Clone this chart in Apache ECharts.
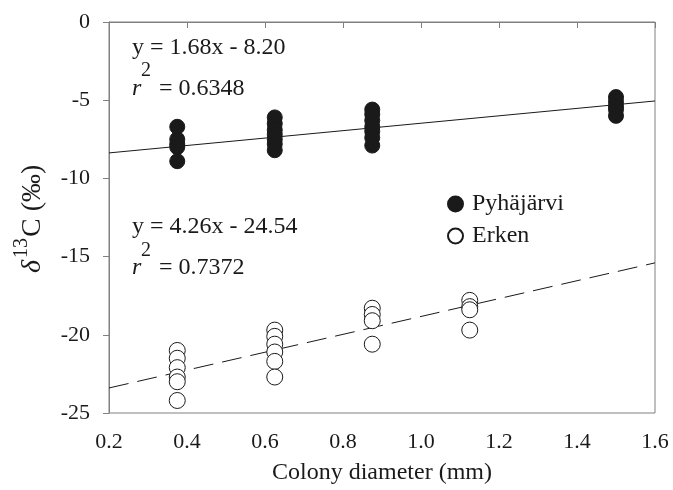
<!DOCTYPE html>
<html>
<head>
<meta charset="utf-8">
<script src="https://cdn.jsdelivr.net/npm/echarts@6/dist/echarts.min.js"></script>
<style>
html,body{margin:0;padding:0;background:#fff;}
#chart{width:673px;height:490px;}
</style>
</head>
<body>
<div id="chart"></div>
<script>
// ---- data ----
var xTicks = [0.2, 0.4, 0.6, 0.8, 1.0, 1.2, 1.4, 1.6];
var yTicks = [0, -5, -10, -15, -20, -25];

var pyhX = [0.375,0.375,0.375,0.375,0.375,
            0.625,0.625,0.625,0.625,0.625,0.625,0.625,
            0.875,0.875,0.875,0.875,0.875,0.875,0.875,
            1.5,1.5,1.5,1.5,1.5];
var pyhY = [-6.7,-7.5,-7.8,-8.0,-8.9,
            -6.1,-6.5,-6.9,-7.2,-7.5,-7.8,-8.2,
            -5.6,-5.9,-6.3,-6.7,-7.0,-7.4,-7.9,
            -4.8,-5.1,-5.4,-5.6,-6.0];

var erkX = [0.375,0.375,0.375,0.375,0.375,0.375,
            0.625,0.625,0.625,0.625,0.625,0.625,
            0.875,0.875,0.875,0.875,
            1.125,1.125,1.125,1.125];
var erkY = [-21.0,-21.5,-22.1,-22.7,-23.0,-24.2,
            -19.7,-20.1,-20.6,-21.1,-21.7,-22.7,
            -18.3,-18.7,-19.1,-20.6,
            -17.8,-18.2,-18.4,-19.7];

var fitX = [0.2, 1.6];
var pyhFitY = [-8.37, -5.05];
var erkFitY = [-23.4, -15.4];

var seriesNames = ['Pyhäjärvi', 'Erken'];
var eq1 = 'y = 1.68x - 8.20', r1 = '= 0.6348';
var eq2 = 'y = 4.26x - 24.54', r2 = '= 0.7372';

// ---- build ----
function pairs(xs, ys){ return xs.map(function(x,i){ return [x, ys[i]]; }); }

var FF = '"Liberation Serif", "Times New Roman", serif';
var chart = echarts.init(document.getElementById('chart'));

function txt(x, y, s, size, italic, align){
  return {type:'text', x:x, y:y, silent:true,
    style:{text:s, fontFamily:FF, fontSize:size, fontStyle: italic?'italic':'normal',
      fill:'#1a1a1a', align: align||'left', verticalAlign:'middle'}};
}

var option = {
  animation:false,
  backgroundColor:'#fff',
  grid:{left:109, right:18, top:22, bottom:77, show:true, borderColor:'#808080', borderWidth:1, backgroundColor:'transparent'},
  xAxis:{type:'value', min:xTicks[0], max:xTicks[xTicks.length-1], interval:0.2,
    axisLine:{lineStyle:{color:'#808080', width:1}},
    axisTick:{show:true, length:6, inside:false, lineStyle:{color:'#808080'}},
    splitLine:{show:false},
    axisLabel:{margin:18, color:'#1a1a1a', fontFamily:FF, fontSize:22,
      formatter:function(v){ return v.toFixed(1); }}
  },
  yAxis:{type:'value', min:yTicks[yTicks.length-1], max:yTicks[0], interval:5,
    axisLine:{show:true, lineStyle:{color:'#808080', width:1}},
    axisTick:{show:true, length:6, inside:false, lineStyle:{color:'#808080'}},
    splitLine:{show:false},
    axisLabel:{margin:19, color:'#1a1a1a', fontFamily:FF, fontSize:22}
  },
  legend:{
    data: seriesNames,
    orient:'vertical', left:447, top:192, padding:0,
    itemWidth:15, itemHeight:15, itemGap:8,
    icon:'circle',
    textStyle:{fontFamily:FF, fontSize:24, color:'#1a1a1a', padding:[0,0,0,4]}
  },
  series:[
    {type:'line', data:pairs(fitX, pyhFitY), symbol:'none', z:1,
      lineStyle:{color:'#1a1a1a', width:1}, silent:true},
    {type:'line', data:pairs(fitX, erkFitY), symbol:'none', z:1,
      lineStyle:{color:'#1a1a1a', width:1, type:[20,9]}, silent:true},
    {name:seriesNames[0], type:'scatter', data:pairs(pyhX, pyhY), symbol:'circle', symbolSize:15, z:3,
      itemStyle:{color:'#1a1a1a', borderColor:'#1a1a1a', borderWidth:1, opacity:1}},
    {name:seriesNames[1], type:'scatter', data:pairs(erkX, erkY), symbol:'circle', symbolSize:16, z:3,
      itemStyle:{color:'#ffffff', borderColor:'#1a1a1a', borderWidth:1, opacity:1}}
  ],
  graphic:[
    txt(132, 47.5, eq1, 24, false),
    txt(132, 88.5, 'r', 24, true),
    txt(141, 71, '2', 20, false),
    txt(159, 88.5, r1, 24, false),
    txt(132, 227, eq2, 24, false),
    txt(132, 268, 'r', 24, true),
    txt(141, 250.5, '2', 20, false),
    txt(159, 268, r2, 24, false),
    txt(382, 473, 'Colony diameter (mm)', 24, false, 'center'),
    {type:'group', x:33, y:211, rotation:Math.PI/2, silent:true,
      children:[
        txt(-62, 0, 'δ', 28, true),
        txt(-47, -11, '13', 20, false),
        txt(-26, 0, 'C (‰)', 28, false)
      ]}
  ]
};
chart.setOption(option);
</script>
</body>
</html>
